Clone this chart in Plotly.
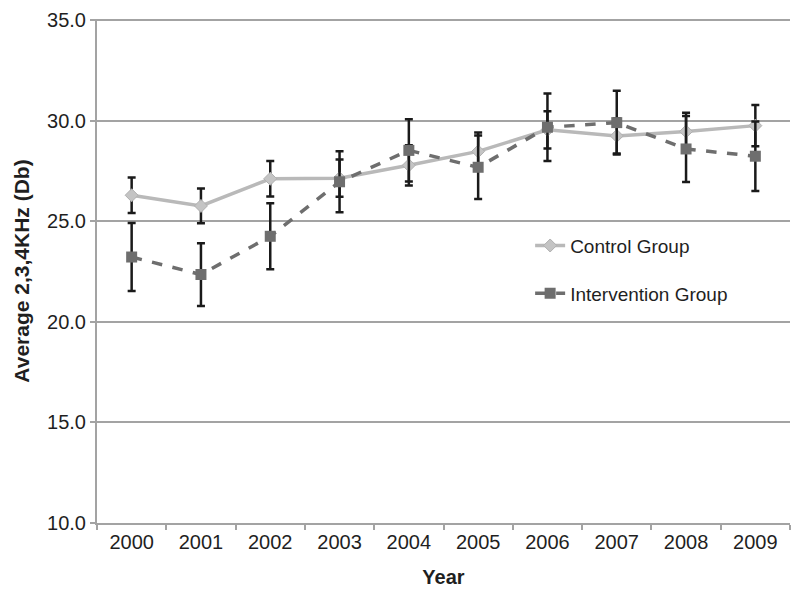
import plotly.graph_objects as go

years = ["2000", "2001", "2002", "2003", "2004", "2005", "2006", "2007", "2008", "2009"]
control = [26.29, 25.76, 27.11, 27.14, 27.78, 28.47, 29.54, 29.24, 29.46, 29.75]
control_err = [0.88, 0.86, 0.88, 0.93, 1.00, 0.94, 0.93, 0.87, 0.93, 1.02]
intervention = [23.22, 22.35, 24.25, 26.96, 28.52, 27.68, 29.67, 29.90, 28.59, 28.23]
intervention_err = [1.69, 1.56, 1.64, 1.52, 1.55, 1.58, 1.68, 1.58, 1.64, 1.73]
yticks = [10, 15, 20, 25, 30, 35]

FONT = "Liberation Sans, Arial, sans-serif"
TXT = "#1f1f1f"
GRID = "#a3a3a3"

fig = go.Figure()
fig.add_trace(go.Scatter(
    x=years, y=control, name="Control Group", mode="lines+markers",
    legendgroup="c",
    line=dict(color="#b9b9b9", width=3.5),
    marker=dict(symbol="diamond", size=10, color="#c4c4c4",
                line=dict(color="#b0b0b0", width=1)),
    error_y=dict(type="data", array=control_err, visible=True,
                 color="#1a1a1a", thickness=2.5, width=4),
))
fig.add_trace(go.Scatter(
    x=years, y=intervention, name="Intervention Group", mode="lines+markers",
    legendgroup="i",
    line=dict(color="#6e6e6e", width=3.5, dash="dash"),
    marker=dict(symbol="square", size=11, color="#6e6e6e"),
    error_y=dict(type="data", array=intervention_err, visible=True,
                 color="#1a1a1a", thickness=2.5, width=4),
))

# page body has an 8px default margin, so margins are offset to place the plot area
fig.update_layout(
    width=800, height=592,
    margin=dict(l=89, r=18, t=11, b=77, autoexpand=False),
    paper_bgcolor="white", plot_bgcolor="white",
    font=dict(family=FONT, size=20, color=TXT),
    showlegend=True,
    legend=dict(x=0.625, y=0.588, xanchor="left", yanchor="top",
                traceorder="grouped", tracegroupgap=20,
                font=dict(family=FONT, size=19, color=TXT),
                bgcolor="rgba(0,0,0,0)"),
    xaxis=dict(
        type="category", categoryorder="array", categoryarray=years,
        range=[-0.5, 9.5], automargin=False,
        showline=True, linecolor=GRID, linewidth=2,
        ticks="outside", tickson="boundaries", ticklen=5, tickcolor=GRID, tickwidth=2,
        showgrid=False, zeroline=False,
        tickfont=dict(family=FONT, size=20, color=TXT),
        title=dict(text="<b>Year</b>", font=dict(family=FONT, size=20, color=TXT), standoff=18),
    ),
    yaxis=dict(
        range=[10, 35.05], tickvals=yticks, automargin=False,
        ticktext=[f"{v:.1f}" for v in yticks],
        ticklabeloverflow="allow",
        showline=True, linecolor=GRID, linewidth=2,
        ticks="outside", ticklen=5, tickcolor=GRID, tickwidth=2,
        showgrid=True, gridcolor=GRID, gridwidth=2,
        zeroline=False,
        tickfont=dict(family=FONT, size=20, color=TXT),
        title=dict(text="<b>Average 2,3,4KHz (Db)</b>", font=dict(family=FONT, size=21, color=TXT), standoff=12),
    ),
)

fig.write_html("out.html")
